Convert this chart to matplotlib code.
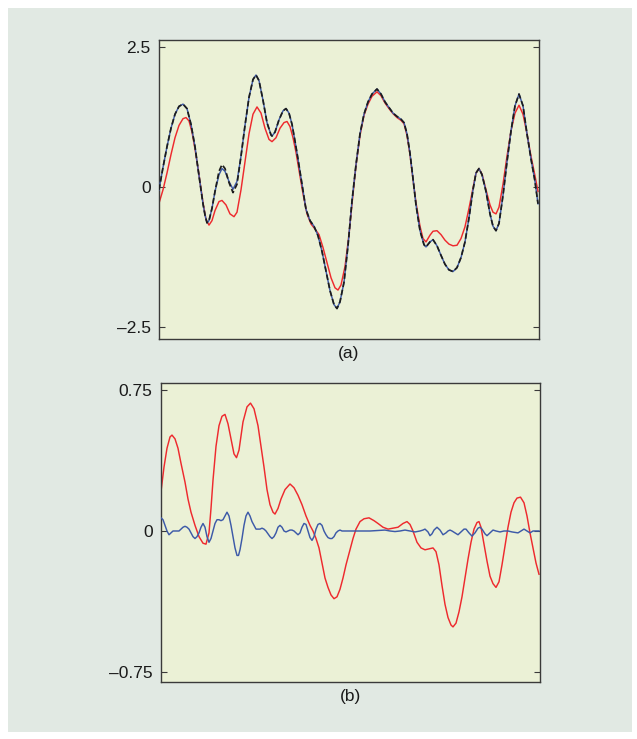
import matplotlib
matplotlib.use("Agg")
import matplotlib.pyplot as plt
from matplotlib.patches import Rectangle

plt.rcParams['font.family'] = ['Liberation Sans', 'DejaVu Sans']

# ---------------- data (panel a) ----------------
t_a = [0, 4, 8, 12, 16, 20, 24, 28, 32, 36, 40, 44, 46, 48, 50, 53, 56, 60, 63, 66, 70, 74, 78,
       82, 86, 90, 94, 97, 100, 104, 108, 112, 113, 116, 120, 124, 127, 130, 133, 136, 139, 143,
       147, 151, 155, 159, 163, 167, 171, 175, 178, 181, 185, 189, 193, 197, 201, 205, 209, 213,
       218, 222, 226, 230, 234, 238, 242, 245, 248, 251, 254, 257, 261, 265, 267, 271, 274, 278,
       282, 286, 290, 294, 298, 302, 306, 310, 314, 317, 320, 323, 327, 331, 334, 337, 340, 344,
       348, 352, 356, 360, 364, 368, 372, 376, 379]
true_a = [-0.05, 0.35, 0.72, 1.05, 1.30, 1.44, 1.48, 1.40, 1.12, 0.72, 0.20, -0.30, -0.50, -0.64,
          -0.60, -0.38, -0.08, 0.22, 0.33, 0.28, 0.10, -0.04, 0.10,
          0.55, 1.10, 1.60, 1.92, 2.00, 1.90, 1.55, 1.15, 0.93, 0.91, 0.98, 1.20, 1.36, 1.40, 1.32,
          1.12, 0.82, 0.50, 0.05,
          -0.40, -0.60, -0.70, -0.87, -1.15, -1.50, -1.85, -2.10, -2.17, -2.05, -1.70, -1.05, -0.25,
          0.40, 0.95, 1.30, 1.52, 1.66,
          1.75, 1.66, 1.52, 1.42, 1.32, 1.26, 1.21, 1.15, 0.95, 0.60, 0.15, -0.32, -0.78, -1.03,
          -1.07, -0.98, -0.94, -1.05,
          -1.22, -1.38, -1.48, -1.51, -1.44, -1.26, -0.98, -0.55, -0.05, 0.25, 0.33, 0.22, -0.08,
          -0.48, -0.70, -0.78, -0.65, -0.15,
          0.45, 1.00, 1.45, 1.66, 1.45, 0.95, 0.50, 0.10, -0.30]
noisy_a = [-0.05, 0.35, 0.72, 1.05, 1.30, 1.44, 1.48, 1.40, 1.12, 0.72, 0.20, -0.30, -0.50, -0.64,
           -0.60, -0.38, -0.08, 0.28, 0.40, 0.33, 0.08, -0.10, 0.05,
           0.55, 1.10, 1.60, 1.92, 2.00, 1.90, 1.55, 1.15, 0.93, 0.91, 0.98, 1.20, 1.36, 1.40, 1.32,
           1.12, 0.82, 0.50, 0.05,
           -0.40, -0.60, -0.70, -0.87, -1.15, -1.50, -1.85, -2.10, -2.17, -2.05, -1.70, -1.05, -0.25,
           0.40, 0.95, 1.30, 1.52, 1.66,
           1.75, 1.66, 1.52, 1.42, 1.32, 1.26, 1.21, 1.15, 0.95, 0.60, 0.15, -0.32, -0.78, -1.03,
           -1.07, -0.98, -0.94, -1.05,
           -1.22, -1.38, -1.48, -1.51, -1.44, -1.26, -0.98, -0.55, -0.05, 0.25, 0.33, 0.22, -0.08,
           -0.48, -0.70, -0.78, -0.65, -0.15,
           0.45, 1.00, 1.45, 1.66, 1.45, 0.95, 0.50, 0.10, -0.30]
t_est_a = [0, 4, 8, 12, 16, 20, 24, 27, 30, 33, 36, 40, 44, 47, 50, 53, 56, 60, 63, 67, 71, 75, 78,
           82, 86, 90, 94, 98, 102, 106, 110, 113, 117, 121, 125, 128, 131, 134, 137, 140, 144,
           148, 152, 156, 160, 164, 168, 172, 176, 179, 182, 186, 190, 193, 197, 201, 205, 209, 213,
           218, 222, 226, 230, 234, 238, 242, 245, 248, 251, 254, 257, 261, 264, 267, 271, 274, 278,
           282, 286, 290, 294, 298, 302, 306, 310, 314, 317, 320, 323, 327, 331, 334, 337, 340, 344,
           348, 352, 356, 360, 364, 368, 372, 376, 379]
est_a = [-0.29, -0.05, 0.25, 0.58, 0.88, 1.10, 1.22, 1.24, 1.18, 0.98, 0.68, 0.22, -0.28, -0.58,
         -0.68, -0.60, -0.42, -0.26, -0.24, -0.32, -0.48, -0.53, -0.45,
         -0.05, 0.45, 0.95, 1.30, 1.43, 1.32, 1.05, 0.85, 0.81, 0.88, 1.05, 1.15, 1.17, 1.08, 0.88,
         0.62, 0.30, -0.12,
         -0.48, -0.66, -0.75, -0.85, -1.08, -1.35, -1.62, -1.80, -1.84, -1.75, -1.42, -0.85, -0.30,
         0.38, 0.92, 1.28, 1.48, 1.62,
         1.70, 1.63, 1.50, 1.40, 1.31, 1.24, 1.19, 1.13, 0.92, 0.58, 0.14, -0.28, -0.70, -0.92,
         -0.98, -0.86, -0.79, -0.78,
         -0.85, -0.95, -1.02, -1.05, -1.04, -0.92, -0.71, -0.38, -0.02, 0.25, 0.33, 0.23, -0.05,
         -0.32, -0.45, -0.48, -0.36, 0.05,
         0.55, 1.00, 1.32, 1.46, 1.30, 0.95, 0.55, 0.20, -0.08]

# ---------------- data (panel b) ----------------
t_err_b = [0, 3, 6, 9, 11, 14, 17, 20, 24, 27, 30, 34, 38, 42, 45, 48, 50, 52, 55, 58, 61, 64, 67,
           70, 73, 75.5, 78, 82, 86, 89.5, 93, 97, 100, 103, 106, 109, 112, 114, 117, 120, 124,
           129, 133, 137, 141, 145, 149, 152, 155, 158, 161, 164, 167, 170, 173, 176, 179, 182,
           185, 189, 192, 195, 199, 203, 208, 213, 217, 222, 227, 232, 237, 242, 246, 249, 252,
           256, 260, 264, 268, 272, 275, 278, 281, 284, 287, 290, 292, 295, 298, 301, 304, 307,
           310, 313, 316, 318, 320, 323, 326, 329, 332, 335, 338, 341, 344, 347, 350, 353, 356,
           359.5, 363, 366, 369, 372, 375, 378]
err_b = [0.21, 0.34, 0.44, 0.50, 0.51, 0.49, 0.44, 0.36, 0.26, 0.17, 0.10, 0.03, -0.03, -0.065,
         -0.07, -0.01, 0.12, 0.27, 0.45, 0.56, 0.61, 0.62, 0.57,
         0.49, 0.41, 0.39, 0.43, 0.58, 0.66, 0.68, 0.65, 0.56, 0.45, 0.34, 0.22, 0.14, 0.10, 0.09,
         0.12, 0.17, 0.22,
         0.25, 0.23, 0.19, 0.14, 0.08, 0.03, 0.00, -0.04, -0.09, -0.17, -0.25, -0.30, -0.34,
         -0.36, -0.35, -0.31, -0.25,
         -0.18, -0.10, -0.04, 0.01, 0.05, 0.065, 0.07, 0.055, 0.04, 0.02, 0.01, 0.015, 0.02,
         0.04, 0.05, 0.035, 0.00,
         -0.06, -0.09, -0.10, -0.095, -0.09, -0.11, -0.18, -0.29, -0.39, -0.46, -0.50, -0.51,
         -0.49, -0.43, -0.35, -0.25, -0.15,
         -0.06, 0.01, 0.045, 0.05, 0.02, -0.07, -0.16, -0.24, -0.28, -0.30, -0.27, -0.18, -0.08,
         0.02, 0.10, 0.15, 0.175,
         0.18, 0.15, 0.08, -0.01, -0.09, -0.17, -0.23]
t_res_b = [0, 2, 4, 6, 8, 10, 12, 14, 16, 18, 20, 22, 24, 26, 28, 30, 32, 34, 36, 38, 40, 42, 44,
           46, 48, 50, 52, 54, 56, 58, 60, 62, 64, 66, 68, 70, 72, 74, 76, 77.5, 79, 81, 83, 85,
           87, 89, 91, 93, 95, 97, 99, 101, 103, 105, 107, 109, 111, 113, 115, 117, 119, 121, 123,
           125, 127, 129, 131, 133, 135, 137, 139, 141, 143, 145, 147, 149, 151, 153, 155, 157,
           159, 161, 163, 165, 167, 169, 171, 173, 175, 177, 179, 181, 189, 199, 209, 219, 224,
           229, 234, 239, 244, 249, 254, 259, 262, 264, 267, 269, 271, 273, 276, 279, 282, 285,
           287, 289, 291, 294, 297, 300, 303, 305, 308, 311, 314, 317, 319, 321, 324, 326, 329,
           332, 335, 339, 343, 347, 351, 355, 357, 360, 363, 366, 369, 372, 375, 378]
res_b = [0.07, 0.06, 0.03, 0.00, -0.02, -0.01, 0.00, 0.00, 0.00, 0.00, 0.01, 0.02, 0.025, 0.02,
         0.01, -0.01, -0.03, -0.04, -0.03, -0.01, 0.02, 0.04, 0.02,
         -0.03, -0.06, -0.04, 0.00, 0.04, 0.06, 0.06, 0.055, 0.06, 0.08, 0.10, 0.08, 0.03, -0.03,
         -0.09, -0.13, -0.13, -0.10, -0.04, 0.03, 0.08,
         0.10, 0.08, 0.05, 0.03, 0.01, 0.01, 0.01, 0.015, 0.01, 0.00, -0.015, -0.03, -0.04, -0.03,
         -0.01, 0.02, 0.03, 0.02, 0.00,
         -0.005, 0.00, 0.005, 0.005, 0.00, -0.01, -0.02, -0.01, 0.02, 0.04, 0.035, 0.00, -0.035,
         -0.05, -0.03, 0.01, 0.035,
         0.04, 0.03, 0.00, -0.02, -0.035, -0.04, -0.04, -0.03, -0.01, 0.00, 0.005, 0.00, 0.00,
         0.00, 0.00, 0.003, 0.005,
         0.00, -0.003, 0.00, 0.005, 0.00, -0.005, 0.00, 0.005, 0.01, -0.005, -0.025, -0.015,
         0.005, 0.02, 0.005, -0.02, -0.01,
         0.00, 0.005, 0.00, -0.01, -0.02, -0.005, 0.01, 0.01, -0.01, -0.027, -0.01, 0.015, 0.02,
         0.01, -0.015, -0.025, -0.01,
         0.005, 0.00, -0.005, 0.00, 0.00, -0.005, -0.008, -0.01, 0.00, 0.01, 0.00, -0.01, 0.00,
         0.00, 0.00]

yticks_a = [-2.5, 0, 2.5]
yticklabels_a = ['\u20132.5', '0', '2.5']
yticks_b = [-0.75, 0, 0.75]
yticklabels_b = ['\u20130.75', '0', '0.75']
panel_labels = ['(a)', '(b)']

# ---------------- styling ----------------
W, H = 637, 739
fig = plt.figure(figsize=(W / 100, H / 100), dpi=100)
fig.patch.set_facecolor('white')
fig.add_artist(Rectangle((8 / W, 1 - 732 / H), 624 / W, 724 / H, transform=fig.transFigure,
                         facecolor='#e1e9e3', edgecolor='none', zorder=0))

AX_BG = '#ebf1d6'
RED = '#ee2a2e'
BLUE = '#3d5aa8'
BLACK = '#1c1c1c'
SPINE = '#3a3a3a'

ax_a = fig.add_axes([159 / W, 1 - 339 / H, 379.5 / W, 299 / H])
ax_b = fig.add_axes([161 / W, 1 - 682 / H, 378.5 / W, 299 / H])

ax_a.plot(t_est_a, est_a, color=RED, lw=1.05, zorder=2)
ax_a.plot(t_a, true_a, color=BLUE, lw=1.05, zorder=3)
ax_a.plot(t_a, noisy_a, color=BLACK, lw=1.25, ls=(0, (3.2, 1.6)), zorder=4)
ax_a.set_xlim(0, 379.5)
ax_a.set_ylim(-2.714, 2.625)
ax_a.set_yticks(yticks_a)
ax_a.set_yticklabels(yticklabels_a)

ax_b.plot(t_err_b, err_b, color=RED, lw=1.05, zorder=2)
ax_b.plot(t_res_b, res_b, color=BLUE, lw=1.05, zorder=3)
ax_b.set_xlim(0, 378.5)
ax_b.set_ylim(-0.803, 0.787)
ax_b.set_yticks(yticks_b)
ax_b.set_yticklabels(yticklabels_b)

for ax, lab in zip([ax_a, ax_b], panel_labels):
    ax.set_facecolor(AX_BG)
    ax.set_xticks([])
    ax.tick_params(axis='y', direction='in', length=4, width=0.8, color=SPINE,
                   left=True, right=True, labelsize=12.5, pad=6, labelcolor='#1a1a1a')
    for s in ax.spines.values():
        s.set_color(SPINE)
        s.set_linewidth(1.0)
    ax.set_xlabel(lab, fontsize=12.5, labelpad=5, color='#1a1a1a')

fig.savefig('out.png', dpi=100, facecolor=fig.get_facecolor())
